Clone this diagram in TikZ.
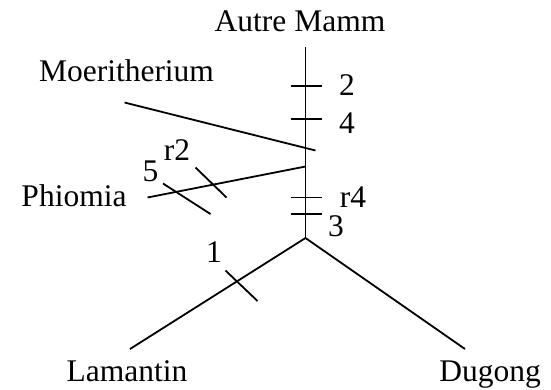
\documentclass[tikz,border=0pt]{standalone}
\usepackage{fontspec}
\setmainfont{Liberation Serif}
\usetikzlibrary{positioning,calc}
\tikzset{
  taxon/.style  = {inner sep=0pt, anchor=base, font=\fontsize{31.5}{37}\selectfont},
  lbl/.style    = {inner sep=0pt, anchor=base, font=\fontsize{31.5}{37}\selectfont},
  branch/.style = {line width=1.8pt},
  hash/.style   = {line width=1.8pt}
}

\begin{document}
\begin{tikzpicture}[x=1pt, y=-1pt]
  \useasboundingbox (0,0) rectangle (551,389);

  % taxa
  \node[taxon] (autre) at (300,31.5) {Autre Mamm};
  \node[taxon] (moer)  at (126.5,81) {Moeritherium};
  \node[taxon] (phio)  at (74,206.5) {Phiomia};
  \node[taxon] (lam)   at (127,381.5) {Lamantin};
  \node[taxon] (dug)   at (490,381.5) {Dugong};

  % tree vertices
  \coordinate (top)  at (305.5,47);
  \coordinate (fork) at (305.5,238);
  \coordinate (moerA) at (124.5,102.5);
  \coordinate (moerB) at (315.5,150.5);
  \coordinate (phioA) at (147.5,197.5);
  \coordinate (phioB) at (305.5,166.5);
  \coordinate (lamE) at (130,349);
  \coordinate (dugE) at (465,349);

  \draw[branch] (top) -- (fork);
  \draw[branch] (moerA) -- (moerB);
  \draw[branch] (phioA) -- (phioB);
  \draw[branch] (fork) -- (lamE);
  \draw[branch] (fork) -- (dugE);

  % character marks on the trunk
  \foreach \y/\n in {86/2, 119/4, 197.5/r4, 214/3}
    \draw[hash] (290.5,\y) coordinate (m\n a) -- (321.5,\y) coordinate (m\n b);

  % marks across the Phiomia branch
  \coordinate (r2a) at (195.5,167.5);
  \coordinate (r2b) at (226.5,197.5);
  \coordinate (m5a) at (163,183.5);
  \coordinate (m5b) at (210.5,214);
  \draw[hash] (r2a) -- (r2b);
  \draw[hash] (m5a) -- (m5b);

  % mark on the Lamantin branch
  \coordinate (m1a) at (225.5,270.5);
  \coordinate (m1b) at (257.5,301);
  \draw[hash] (m1a) -- (m1b);

  % character labels
  \node[lbl] (l2)  at (347,95) {2};
  \node[lbl] (l4)  at (347,133) {4};
  \node[lbl] (lr4) at (353,207) {r4};
  \node[lbl] (l3)  at (336,236) {3};
  \node[lbl] (lr2) at (177,160) {r2};
  \node[lbl] (l5)  at (150.5,181) {5};
  \node[lbl] (l1)  at (214,262) {1};
\end{tikzpicture}
\end{document}
